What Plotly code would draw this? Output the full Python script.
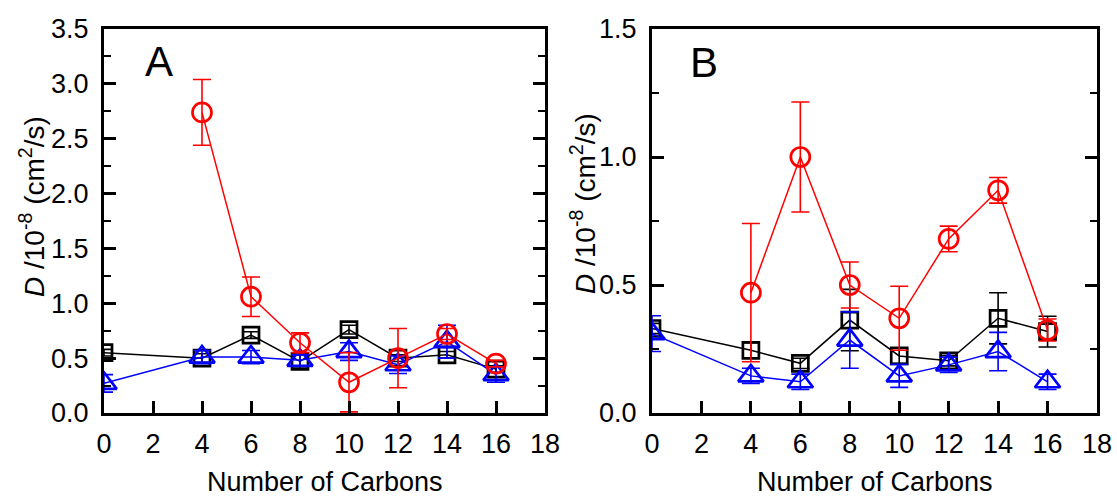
import plotly.graph_objects as go

carbons = [0, 4, 6, 8, 10, 12, 14, 16]
carbons_red = [4, 6, 8, 10, 12, 14, 16]

# Panel A
a_black = [0.55, 0.50, 0.71, 0.47, 0.76, 0.50, 0.53, 0.40]
a_black_err = [0.03, 0.04, 0.03, 0.06, 0.04, 0.03, 0.03, 0.03]
a_red = [2.74, 1.06, 0.64, 0.28, 0.50, 0.72, 0.45]
a_red_err = [0.30, 0.18, 0.09, 0.27, 0.27, 0.05, 0.03]
a_blue = [0.27, 0.51, 0.51, 0.48, 0.56, 0.44, 0.65, 0.35]
a_blue_err = [0.08, 0.06, 0.06, 0.05, 0.08, 0.08, 0.15, 0.07]

# Panel B
b_black = [0.33, 0.245, 0.194, 0.363, 0.223, 0.204, 0.37, 0.318]
b_black_err = [0.02, 0.03, 0.02, 0.12, 0.03, 0.02, 0.10, 0.06]
b_red = [0.47, 1.00, 0.50, 0.37, 0.68, 0.87, 0.324]
b_red_err = [0.27, 0.215, 0.09, 0.125, 0.05, 0.05, 0.043]
b_blue = [0.31, 0.145, 0.122, 0.285, 0.145, 0.188, 0.24, 0.122]
b_blue_err = [0.07, 0.03, 0.03, 0.11, 0.045, 0.03, 0.075, 0.03]

FONT = "Liberation Sans, Arial, sans-serif"
W, H = 1117, 498

def series(x, y, err, color, symbol, size, xa, ya):
    return go.Scatter(
        x=x, y=y, xaxis=xa, yaxis=ya, mode="lines+markers",
        line=dict(color=color, width=1.5),
        marker=dict(symbol=symbol, size=size, color=color,
                    line=dict(color=color, width=2.7)),
        error_y=dict(type="data", array=err, visible=True, color=color,
                     thickness=1.6, width=9),
        showlegend=False,
    )

fig = go.Figure()
fig.add_trace(series(carbons, a_black, a_black_err, "black", "square-open", 16, "x", "y"))
fig.add_trace(series(carbons, a_blue, a_blue_err, "#0000FF", "triangle-up-open", 22, "x", "y"))
fig.add_trace(series(carbons_red, a_red, a_red_err, "#FF0000", "circle-open", 19, "x", "y"))
fig.add_trace(series(carbons, b_black, b_black_err, "black", "square-open", 16, "x2", "y2"))
fig.add_trace(series(carbons, b_blue, b_blue_err, "#0000FF", "triangle-up-open", 22, "x2", "y2"))
fig.add_trace(series(carbons_red, b_red, b_red_err, "#FF0000", "circle-open", 19, "x2", "y2"))

ytitle = "<i>D</i> /10<sup>-8</sup> (cm<sup>2</sup>/s)"
xtitle = "Number of Carbons"

def xax(domain, anchor):
    return dict(domain=domain, anchor=anchor, range=[0, 18], dtick=2, tick0=0,
                automargin=False,
                showgrid=False, zeroline=False, showline=True, linecolor="black",
                linewidth=3, mirror=True, ticks="inside", ticklen=12, tickwidth=3,
                tickcolor="black", tickfont=dict(size=27, color="black", family=FONT),
                ticklabelstandoff=5)

def yax(domain, anchor, rng, dtick, minor):
    return dict(domain=domain, anchor=anchor, range=rng, dtick=dtick, tick0=0,
                tickformat=".1f", automargin=False,
                showgrid=False, zeroline=False, showline=True, linecolor="black",
                linewidth=3, mirror="allticks", ticks="inside", ticklen=12, tickwidth=3,
                tickcolor="black", tickfont=dict(size=27, color="black", family=FONT),
                ticklabelstandoff=7,
                minor=dict(dtick=minor, ticks="inside", ticklen=7, tickwidth=2,
                           tickcolor="black", showgrid=False))

xa_dom = [104 / W, 545 / W]
xb_dom = [652 / W, 1097 / W]
y_dom = [85 / H, 469 / H]

def title_ann(text, x, y, angle=0, size=27, yanchor="middle"):
    return dict(text=text, x=x, y=y, xref="paper", yref="paper", showarrow=False,
                textangle=angle, xanchor="center", yanchor=yanchor, borderpad=0,
                font=dict(size=size, color="black", family=FONT))

fig.update_layout(
    width=W, height=H,
    margin=dict(l=0, r=0, t=0, b=0, autoexpand=False),
    paper_bgcolor="white", plot_bgcolor="white",
    font=dict(family=FONT, color="black"),
    xaxis=xax(xa_dom, "y"),
    yaxis=yax(y_dom, "x", [0, 3.5], 0.5, 0.25),
    xaxis2=xax(xb_dom, "y2"),
    yaxis2=yax(y_dom, "x2", [0, 1.5], 0.5, 0.25),
    annotations=[
        dict(text="A", x=2.25, y=3.2, xref="x", yref="y", showarrow=False,
             font=dict(size=42, color="black", family=FONT)),
        dict(text="B", x=2.1, y=1.37, xref="x2", yref="y2", showarrow=False,
             font=dict(size=42, color="black", family=FONT)),
        title_ann(xtitle, sum(xa_dom) / 2, 0.5 / H, yanchor="bottom"),
        title_ann(xtitle, sum(xb_dom) / 2, 0.5 / H, yanchor="bottom"),
        title_ann(ytitle, 32 / W, (H - 207) / H, angle=-90, size=28),
        title_ann(ytitle, 583 / W, (H - 204) / H, angle=-90, size=28),
    ],
)

fig.write_html("out.html")
